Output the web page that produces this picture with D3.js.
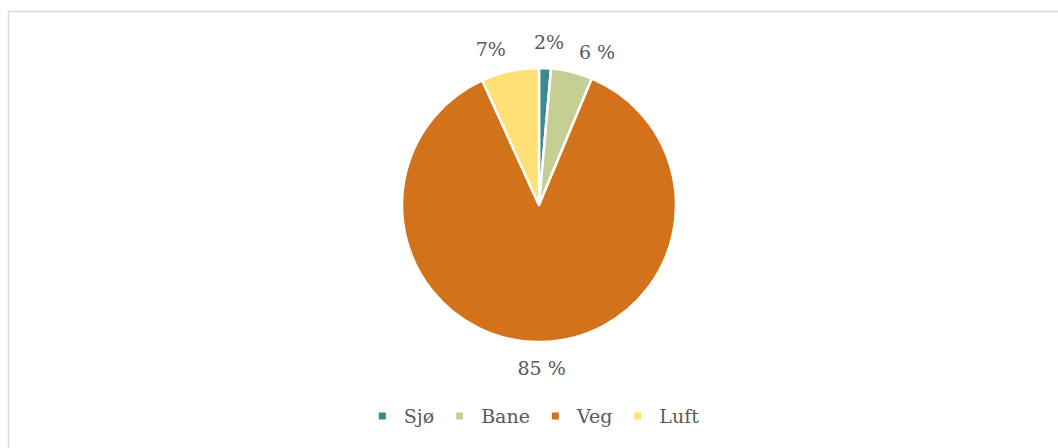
<!DOCTYPE html>
<html>
<head>
<meta charset="utf-8">
<script src="https://cdn.jsdelivr.net/npm/d3@7"></script>
<style>
  body { margin: 0; background: #fff; }
  svg text { font-family: "DejaVu Serif", serif; fill: #595959; }
</style>
</head>
<body>
<div id="chart"></div>
<script>
var svgWidth = 1058;
var svgHeight = 448;

// data
var categories = ["Sjø", "Bane", "Veg", "Luft"];
var values = [1.4, 4.9, 86.9, 6.8];
var labels = ["2%", "6 %", "85 %", "7%"];
var colors = ["#3d898b", "#c6cf93", "#d2731c", "#fee075"];

// small angle nudges (degrees) so the top labels don't collide
var labelNudge = [1, 7, 0, -5];

var cx = 539;
var cy = 205;
var radius = 137;

var svg = d3.select("#chart")
  .append("svg")
  .attr("width", svgWidth)
  .attr("height", svgHeight);

// chart frame
svg.append("rect")
  .attr("x", 8.5)
  .attr("y", 11.5)
  .attr("width", 1100)
  .attr("height", 500)
  .attr("fill", "none")
  .attr("stroke", "#d9d9d9")
  .attr("stroke-width", 1.5);

var pieData = d3.pie().sort(null).value(d => d)(values);

var arc = d3.arc().innerRadius(0).outerRadius(radius);

var pieGroup = svg.append("g")
  .attr("transform", `translate(${cx}, ${cy})`);

pieGroup.selectAll("path")
  .data(pieData)
  .enter()
  .append("path")
  .attr("d", arc)
  .attr("fill", (d, i) => colors[i])
  .attr("stroke", "#fff")
  .attr("stroke-width", 2.5)
  .attr("stroke-linejoin", "round");

// outside-end labels
var labelRadius = 163;
pieGroup.selectAll("text.lbl")
  .data(pieData)
  .enter()
  .append("text")
  .attr("class", "lbl")
  .attr("text-anchor", "middle")
  .attr("dy", "0.35em")
  .attr("font-size", 19)
  .attr("x", (d, i) => {
    var a = (d.startAngle + d.endAngle) / 2 + labelNudge[i] * Math.PI / 180;
    return labelRadius * Math.sin(a);
  })
  .attr("y", (d, i) => {
    var a = (d.startAngle + d.endAngle) / 2 + labelNudge[i] * Math.PI / 180;
    return -labelRadius * Math.cos(a);
  })
  .text((d, i) => labels[i]);

// legend
var legend = svg.append("g");
var markerSize = 7;
var markerGap = 18;
var itemGap = 22;

var items = legend.selectAll("g")
  .data(categories)
  .enter()
  .append("g");

items.append("rect")
  .attr("width", markerSize)
  .attr("height", markerSize)
  .attr("y", -markerSize / 2)
  .attr("fill", (d, i) => colors[i]);

items.append("text")
  .attr("x", markerSize + markerGap)
  .attr("dy", "0.35em")
  .attr("font-size", 19)
  .text(d => d);

// place items side by side and center the row
var xPos = 0;
items.each(function() {
  var w = this.getBBox().width;
  d3.select(this).attr("transform", `translate(${xPos}, 0)`);
  xPos += w + itemGap;
});
var totalW = xPos - itemGap;
legend.attr("transform", `translate(${cx - totalW / 2}, 416)`);
</script>
</body>
</html>
